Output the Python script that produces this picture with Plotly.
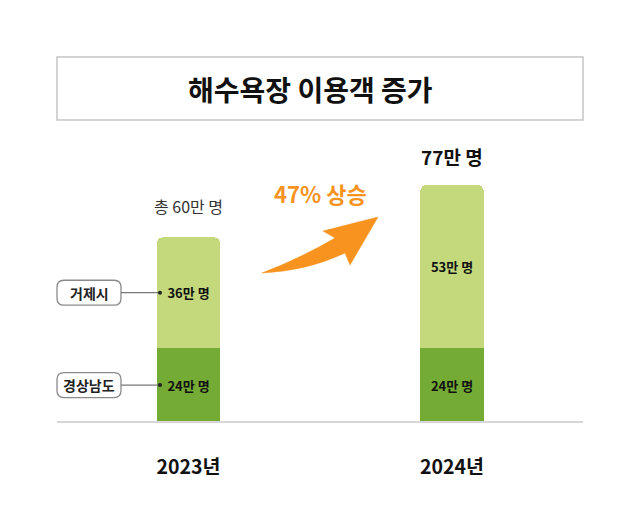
import plotly.graph_objects as go

years = ["2023년", "2024년"]
gyeongnam = [24, 24]
geoje = [36, 53]
totals = [60, 77]
seg_names = ["경상남도", "거제시"]
title_text = "해수욕장 이용객 증가"
growth_text = "47% 상승"

W, H = 640, 513
FONT = "Noto Sans CJK KR"
LIGHT = "#c3d97c"
DARK = "#74ab34"
ORANGE = "#f7931e"

# layout geometry
B_MARGIN = 60
plot_h = H - B_MARGIN
zero_px = 422
scale = 3.078
y_lo = -(plot_h - zero_px) / scale
y_hi = zero_px / scale
c0, c1 = 188.5, 452.0
step = c1 - c0
x_lo = -c0 / step
x_hi = (W - c0) / step

def px(x):
    return x / W

def py(y):
    return (plot_h - y) / plot_h

def ypix(v):
    return zero_px - v * scale

bar_font = dict(family=FONT, size=13, color="#111", weight=600)
fig = go.Figure()
fig.add_trace(go.Bar(
    x=years, y=gyeongnam, name=seg_names[0], marker=dict(color=DARK, line=dict(width=0)),
    width=0.24, text=[f"{v}만 명" for v in gyeongnam], textposition="inside",
    insidetextanchor="middle", textfont=bar_font, hoverinfo="skip"))
fig.add_trace(go.Bar(
    x=years, y=geoje, name=seg_names[1], marker=dict(color=LIGHT, line=dict(width=0)),
    width=0.24, text=[f"{v}만 명" for v in geoje], textposition="inside",
    insidetextanchor="middle", textfont=bar_font, hoverinfo="skip"))

shapes = []
annotations = []

def note(text, x, y, size, color, weight=400):
    annotations.append(dict(text=text, xref="paper", yref="paper", x=px(x), y=py(y),
                            xanchor="center", yanchor="middle", showarrow=False,
                            font=dict(family=FONT, size=size, color=color, weight=weight)))

# title box
shapes.append(dict(type="rect", xref="paper", yref="paper",
                   x0=px(57), x1=px(583), y0=py(120), y1=py(57),
                   line=dict(color="#c6c6c6", width=1.5), fillcolor="white", layer="below"))
note(f"<b>{title_text}</b>", 310, 89, 28, "#111")

# baseline
shapes.append(dict(type="line", xref="paper", yref="y", x0=px(57), x1=px(583), y0=0, y1=0,
                   line=dict(color="#d6d6d6", width=2)))

# totals
annotations.append(dict(text=f"총 {totals[0]}만 명", x=years[0], y=totals[0], xref="x", yref="y",
                        xanchor="center", yanchor="middle",
                        showarrow=False, yshift=31, font=dict(family=FONT, size=16, color="#333")))
annotations.append(dict(text=f"<b>{totals[1]}만 명</b>", x=years[1], y=totals[1], xref="x", yref="y",
                        xanchor="center", yanchor="middle",
                        showarrow=False, yshift=28, font=dict(family=FONT, size=19, color="#111")))

# growth label
note(f"<b>{growth_text}</b>", 320, 193, 22, ORANGE)

# curved arrow
def P(x, y):
    return f"{px(x):.5f},{py(y):.5f}"

arrow = (f"M {P(262,273)} Q {P(307,271)} {P(345,253)} L {P(350,265)} L {P(378,217)} "
         f"L {P(323,231)} L {P(335,238)} Q {P(301,258)} {P(262,273)} Z")
shapes.append(dict(type="path", xref="paper", yref="paper", path=arrow,
                   fillcolor=ORANGE, line=dict(color=ORANGE, width=0.5)))

def rounded_rect(x0, y0, x1, y1, r):
    return (f"M {P(x0+r,y0)} L {P(x1-r,y0)} Q {P(x1,y0)} {P(x1,y0+r)} "
            f"L {P(x1,y1-r)} Q {P(x1,y1)} {P(x1-r,y1)} L {P(x0+r,y1)} "
            f"Q {P(x0,y1)} {P(x0,y1-r)} L {P(x0,y0+r)} Q {P(x0,y0)} {P(x0+r,y0)} Z")

mids = [gyeongnam[0] / 2, gyeongnam[0] + geoje[0] / 2]
for name, mid in zip(seg_names, mids):
    yc = ypix(mid)
    shapes.append(dict(type="path", xref="paper", yref="paper",
                       path=rounded_rect(57, yc - 12.5, 121, yc + 12.5, 7),
                       line=dict(color="#8a8a8a", width=1.3), fillcolor="white"))
    shapes.append(dict(type="line", xref="paper", yref="paper",
                       x0=px(121), x1=px(159), y0=py(yc), y1=py(yc),
                       line=dict(color="#777", width=1.2)))
    shapes.append(dict(type="circle", xref="paper", yref="paper",
                       x0=px(158), x1=px(162), y0=py(yc + 2), y1=py(yc - 2),
                       fillcolor="#222", line=dict(width=0)))
    note(name, 89, yc, 14, "#222", 600)

fig.update_layout(
    width=W, height=H, barmode="stack", barcornerradius=6,
    margin=dict(l=0, r=0, t=0, b=B_MARGIN),
    paper_bgcolor="white", plot_bgcolor="white", showlegend=False,
    shapes=shapes, annotations=annotations,
    xaxis=dict(range=[x_lo, x_hi], showgrid=False, zeroline=False, showline=False,
               tickmode="array", tickvals=years, ticktext=[f"<b>{y}</b>" for y in years],
               ticks="", tickfont=dict(family=FONT, size=19.5, color="#111"), fixedrange=True),
    yaxis=dict(range=[y_lo, y_hi], visible=False, fixedrange=True),
    uniformtext=dict(minsize=12, mode="show"),
)

fig.write_html("out.html")
